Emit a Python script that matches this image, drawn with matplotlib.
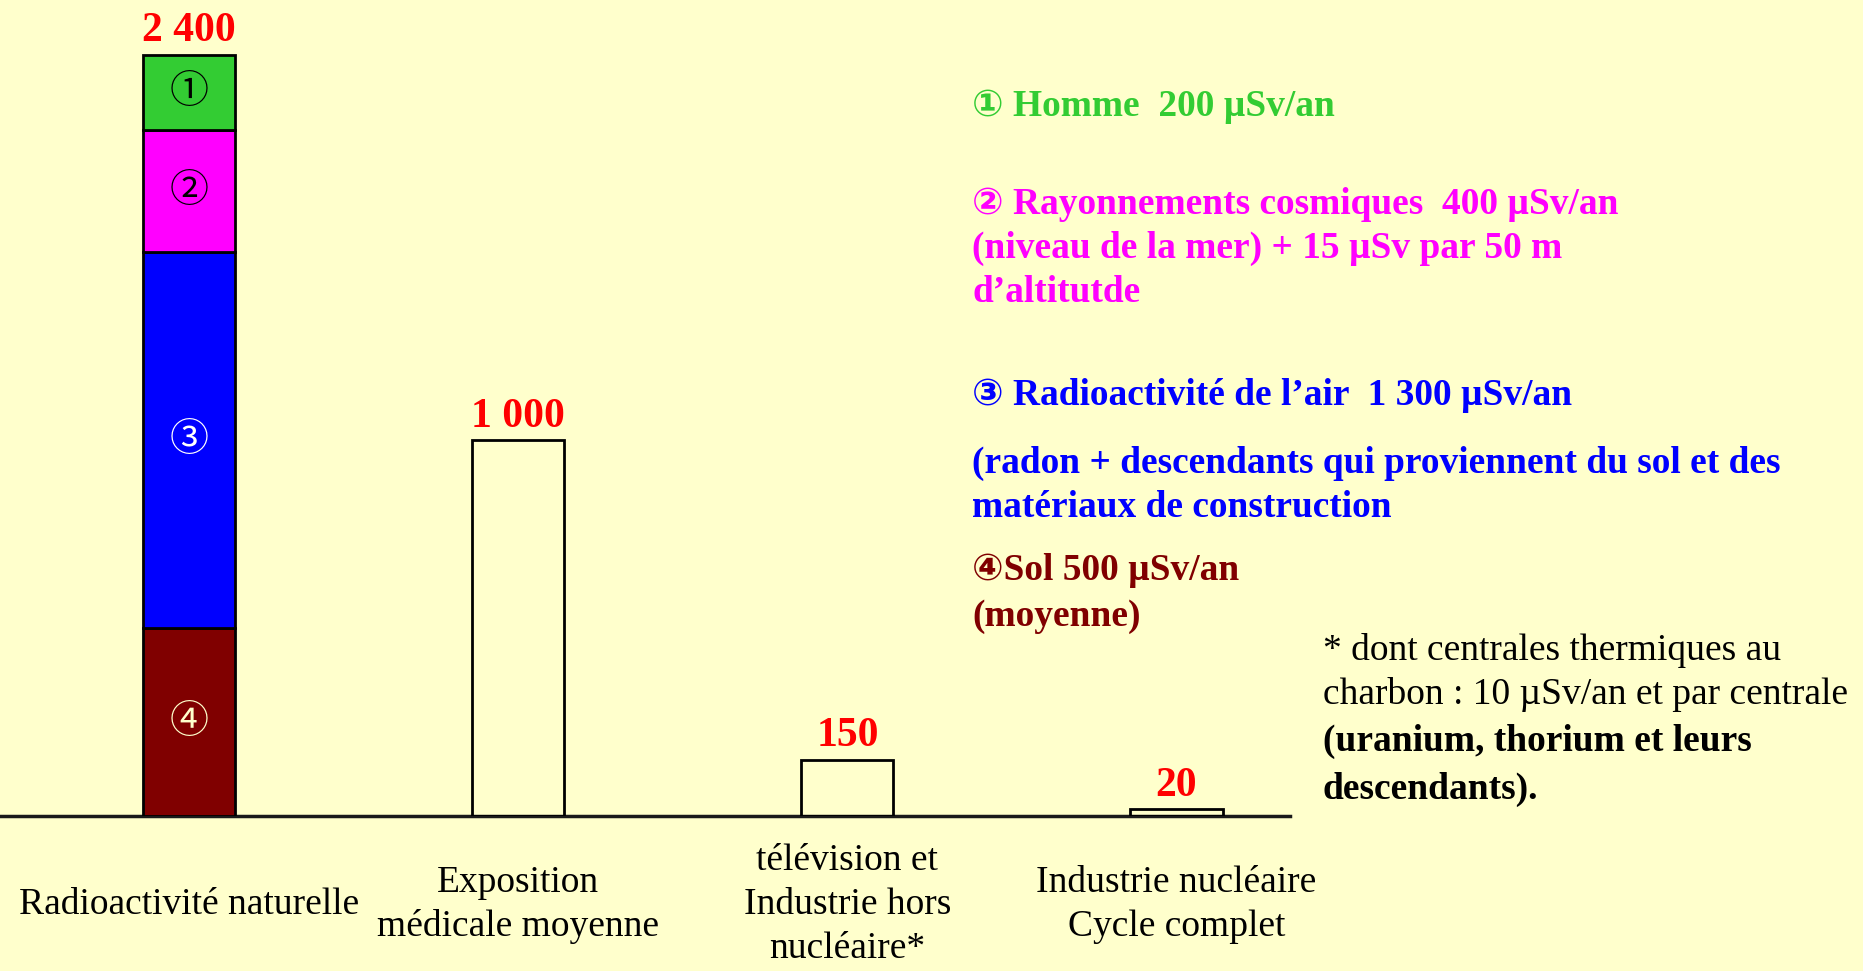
"""
Radioactivity exposure bars: natural background (stacked ①-④), medical
exposure, TV / non-nuclear industry and the nuclear fuel cycle, with the
coloured legend text block on the right. Writes out.png.
"""

import matplotlib.pyplot as plt

plt.rcParams['font.family'] = ['Liberation Serif', 'DejaVu Sans', 'Noto Sans CJK JP']

BG = '#FFFFCC'

categories = ["Radioactivité naturelle",
              "Exposition\nmédicale moyenne",
              "télévision et\nIndustrie hors\nnucléaire*",
              "Industrie nucléaire\nCycle complet"]
total_labels = ["2 400", "1 000", "150", "20"]

# natural background, bottom -> top; heights as drawn in the picture
# (the drawing is not to scale with its own labels)
seg_marks = ["④", "③", "②", "①"]
seg_heights = [500, 1000, 325, 200]
seg_colors = ['#800000', '#0000FF', '#FF00FF', '#33CC33']
seg_text_colors = [BG, '#FFFFFF', 'black', 'black']

other_heights = [1000, 150, 18]

legend_lines = [
    ("① Homme  200 µSv/an", '#33CC33'),
    ("② Rayonnements cosmiques  400 µSv/an", '#FF00FF'),
    ("(niveau de la mer) + 15 µSv par 50 m", '#FF00FF'),
    ("d’altitutde", '#FF00FF'),
    ("③ Radioactivité de l’air  1 300 µSv/an", '#0000FF'),
    ("(radon + descendants qui proviennent du sol et des", '#0000FF'),
    ("matériaux de construction", '#0000FF'),
    ("④Sol 500 µSv/an", '#800000'),
    ("(moyenne)", '#800000'),
]
legend_y_px = [103, 200, 244, 288, 391, 459, 503, 567, 612]

note_lines = [
    ("* dont centrales thermiques au", 'normal'),
    ("charbon : 10 µSv/an et par centrale", 'normal'),
    ("(uranium, thorium et leurs", 'bold'),
    ("descendants).", 'bold'),
]
note_y_px = [647, 691, 737, 785]

W, H = 1863, 971
fig = plt.figure(figsize=(W / 100, H / 100), dpi=100, facecolor=BG)
ax = fig.add_axes([0, 1 - 816 / H, 1290 / W, 789.6 / H])
ax.set_facecolor(BG)

bar_w = 0.28
bottom = 0
for h, c, m, tc in zip(seg_heights, seg_colors, seg_marks, seg_text_colors):
    ax.bar(0, h, bottom=bottom, width=bar_w, color=c, edgecolor='black',
           linewidth=2, zorder=3)
    ax.text(0, bottom + h / 2, m, ha='center', va='center', fontsize=28,
            color=tc, family=['Noto Sans CJK JP', 'DejaVu Sans'], zorder=4)
    bottom += h

xs = [1, 2, 3]
ax.bar(xs, other_heights, width=bar_w, color='none', edgecolor='black',
       linewidth=2, zorder=3)

tops = [sum(seg_heights)] + other_heights
for x, top, lab in zip(range(4), tops, total_labels):
    ax.annotate(lab, (x, top), xytext=(0, 3), textcoords='offset points',
                ha='center', va='bottom', fontsize=30, fontweight='bold',
                color='#FF0000')

ax.set_xlim(-0.575, 3.345)
ax.set_ylim(0, 2100)
ax.set_xticks(range(4))
ax.set_xticklabels(categories, fontsize=27, va='center', linespacing=1.35)
ax.tick_params(axis='x', length=0, pad=64)
ax.set_yticks([])
for s in ['top', 'left', 'right']:
    ax.spines[s].set_visible(False)
ax.spines['bottom'].set_color('#1a1a1a')
ax.spines['bottom'].set_linewidth(2.5)

for (txt, col), ypx in zip(legend_lines, legend_y_px):
    fig.text(972 / W, 1 - ypx / H, txt, color=col, fontsize=26.9,
             fontweight='bold', ha='left', va='center_baseline')

for (txt, wt), ypx in zip(note_lines, note_y_px):
    fig.text(1323 / W, 1 - ypx / H, txt, color='black', fontsize=27,
             fontweight=wt, ha='left', va='center_baseline')

fig.savefig('out.png', dpi=100, facecolor=BG)
